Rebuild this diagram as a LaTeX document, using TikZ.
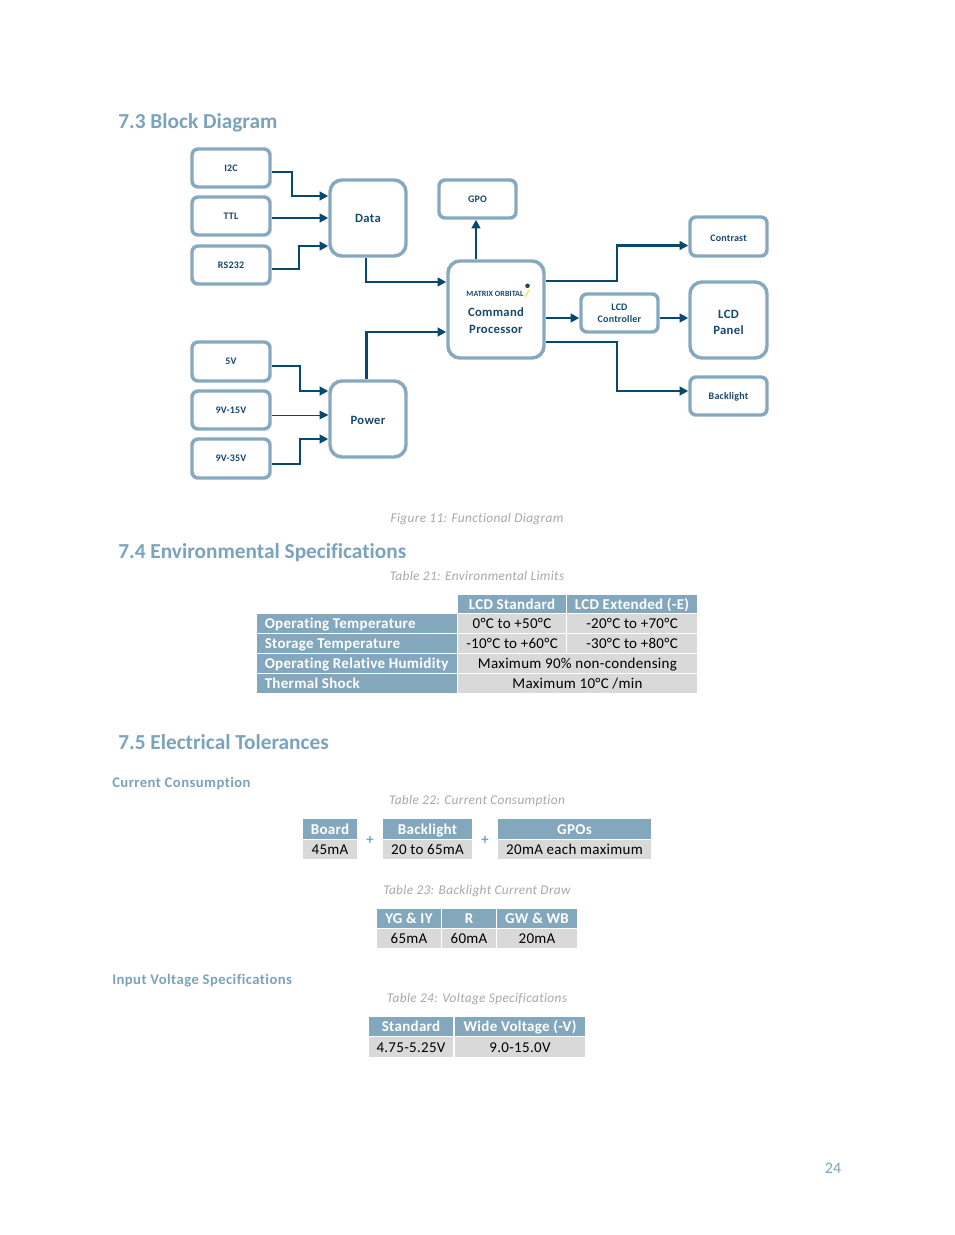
\documentclass[tikz,border=0pt]{standalone}
\usepackage{fontspec}
\setmainfont{Carlito}[Ligatures={NoCommon,NoContextual}]
\usetikzlibrary{calc,arrows.meta}
\definecolor{boxline}{HTML}{86A9C0}
\definecolor{wire}{HTML}{06486E}
\definecolor{boxtext}{HTML}{17496B}
\definecolor{head}{HTML}{7BA3BC}
\definecolor{cap}{HTML}{A8A8A8}
\definecolor{cellb}{HTML}{83A8BE}
\definecolor{cellg}{HTML}{D9D9D9}
\newcommand{\lsp}[1]{\addfontfeature{LetterSpace=#1}}
\newcommand{\lowr}[1]{\rule{0pt}{#1}}
\tikzset{
 x=0.75pt,y=-0.75pt,
 blk/.style={draw=boxline,line width=2.6pt,fill=white,rounded corners=4.5pt,inner sep=0,text=boxtext,font=\bfseries\fontsize{7.5}{9}\selectfont\lsp{2},align=center},
 big/.style={blk,rounded corners=9pt,font=\bfseries\fontsize{9.5}{12}\selectfont\lsp{2.5}},
 wirea/.style={draw=wire,line width=1.6pt,-{Triangle[length=6.5pt,width=6.5pt]}},
 wiret/.style={draw=wire,line width=0.7pt,-{Triangle[length=6.5pt,width=6.5pt]}},
 heading/.style={anchor=base west,inner sep=0,text=head,font=\bfseries\fontsize{16}{18}\selectfont},
 subhead/.style={anchor=base west,inner sep=0,text=head,font=\bfseries\fontsize{11}{13}\selectfont\lsp{3}},
 captxt/.style={anchor=base,inner sep=0,text=cap,font=\itshape\fontsize{10}{12}\selectfont\lsp{2.5}},
 hd/.style={fill=cellb,inner sep=0,text=white,text height=9.6pt,text depth=1.4pt,font=\bfseries\fontsize{11.25}{13}\selectfont\lsp{2}},
 cl/.style={fill=cellg,inner sep=0,text=black,text height=9.6pt,text depth=1.4pt,font=\fontsize{11.25}{13}\selectfont\lsp{2}},
}
% #1 name #2 style #3 x0 #4 y0 #5 x1 #6 y1 #7 text
\newcommand{\cellbox}[7]{\path[#2] (#3,#4) rectangle (#5,#6);
 \node[#2,fill=none] (#1) at ({(#3+#5)/2},{(#4+#6)/2}) {#7};}
\newcommand{\rowhead}[6]{\path[hd] (#2,#3) rectangle (#4,#5);
 \node[hd,fill=none,anchor=west] (#1) at ({#2+7.5},{(#3+#5)/2}) {#6};}
\newcommand{\blk}[7]{\node[#2,minimum width={(#5-#3)*0.75pt},minimum height={(#6-#4)*0.75pt}] (#1) at ({(#3+#5)/2},{(#4+#6)/2}) {#7};}
\begin{document}
\begin{tikzpicture}
\useasboundingbox (0,0) rectangle (954,1235);
\fill[white] (0,0) rectangle (954,1235);
% headings
\node[heading] (h73) at (118,128) {7.3 Block Diagram};
\node[heading] (h74) at (118,558) {7.4 Environmental Specifications};
\node[heading] (h75) at (118,749) {7.5 Electrical Tolerances};
\node[subhead] (s1) at (112,787) {Current Consumption};
\node[subhead] (s2) at (112,984) {Input Voltage Specifications};
\node[captxt] (c1) at (477,522) {Figure 11: Functional Diagram};
\node[captxt] (c2) at (477,580) {Table 21: Environmental Limits};
\node[captxt] (c3) at (477,804) {Table 22: Current Consumption};
\node[captxt] (c4) at (477,894) {Table 23: Backlight Current Draw};
\node[captxt] (c5) at (477,1002) {Table 24: Voltage Specifications};
\node[anchor=base,inner sep=0,text=head,font=\fontsize{12}{14}\selectfont] (pg) at (833,1173) {24};
% blocks
\blk{i2c}{blk}{192}{149}{270}{187}{I2C}
\blk{ttl}{blk}{192}{197}{270}{235}{TTL}
\blk{rs}{blk}{192}{246}{270}{284}{RS232}
\blk{v5}{blk}{192}{342}{270}{381}{5V}
\blk{v15}{blk}{192}{391}{270}{429}{9V-15V}
\blk{v35}{blk}{192}{439}{270}{478}{9V-35V}
\blk{data}{big}{330}{180}{406}{256}{Data}
\blk{power}{big}{330}{381}{406}{457}{\lowr{8.4pt}Power}
\blk{gpo}{blk}{439}{180}{516}{218}{GPO}
\blk{contrast}{blk}{690}{217}{767}{256}{\lowr{7pt}Contrast}
\blk{panel}{big}{690}{282}{767}{358}{\lowr{9.4pt}LCD\\Panel}
\blk{back}{blk}{690}{377}{767}{415}{\lowr{7pt}Backlight}
\blk{ctrl}{blk}{581}{294}{658}{332}{LCD\\Controller}
\blk{cmd}{big}{448}{261}{544}{358}{\mbox{}}
\node[inner sep=0,text=boxtext,font=\bfseries\fontsize{9.5}{12.5}\selectfont\lsp{2.5},align=center] (cmdt) at (496,320.5) {Command\\Processor};
\node[inner sep=0,text=boxtext,font=\bfseries\fontsize{6}{7}\selectfont\lsp{1}] (logo) at (495,293.5) {MATRIX ORBITAL};
\fill[boxtext] (527.5,285.8) circle (1.7pt);
\draw[yellow!85!orange,line width=0.7pt] (525,297) -- (529,290);
% connectors
\draw[wirea] ($(i2c.east)+(0,4)$) -- ++(20,0) |- ($(data.west)+(0,-22)$);
\draw[wirea] ($(ttl.east)+(0,2)$) -- ($(data.west)+(0,0)$);
\draw[wirea] ($(rs.east)+(0,4)$) -- ++(27,0) |- ($(data.west)+(0,28)$);
\draw[wirea] ($(v5.east)+(0,4.5)$) -- ++(28,0) |- ($(power.west)+(0,-28)$);
\draw[wiret] ($(v15.east)+(0,5)$) -- ($(power.west)+(0,-4)$);
\draw[wirea] ($(v35.east)+(0,5.5)$) -- ++(28,0) |- ($(power.west)+(0,20)$);
\draw[wirea] ($(data.south)+(-2,0)$) |- ($(cmd.west)+(0,-27.5)$);
\draw[wirea] ($(power.north)+(-1.5,0)$) |- ($(cmd.west)+(0,22.5)$);
\draw[wirea] ($(cmd.north)+(-20,0)$) -- ($(gpo.south)+(-1.5,0)$);
\draw[wirea] ($(cmd.east)+(0,-28.5)$) -- ++(71,0) |- ($(contrast.west)+(0,9)$);
\draw[wirea] ($(cmd.east)+(0,8.5)$) -- (ctrl.west |- 0,318);
\draw[wirea] ($(ctrl.east)+(0,5)$) -- ($(panel.west)+(0,-2)$);
\draw[wirea] ($(cmd.east)+(0,32.5)$) -- ++(71,0) |- ($(back.west)+(0,-5)$);
% table 21
\cellbox{a1}{hd}{458}{595}{566}{613}{LCD Standard}
\cellbox{a2}{hd}{567}{595}{697}{613}{LCD Extended (-E)}
\rowhead{r1}{257}{614}{457}{633}{Operating Temperature}
\rowhead{r2}{257}{634}{457}{653}{Storage Temperature}
\rowhead{r3}{257}{654}{457}{673}{Operating Relative Humidity}
\rowhead{r4}{257}{674}{457}{693}{Thermal Shock}
\cellbox{b1}{cl}{458}{614}{566}{633}{0°C to +50°C}
\cellbox{b2}{cl}{567}{614}{697}{633}{-20°C to +70°C}
\cellbox{b3}{cl}{458}{634}{566}{653}{-10°C to +60°C}
\cellbox{b4}{cl}{567}{634}{697}{653}{-30°C to +80°C}
\cellbox{b5}{cl}{458}{654}{697}{673}{Maximum 90\% non-condensing}
\cellbox{b6}{cl}{458}{674}{697}{693}{Maximum 10°C /min}
% table 22
\cellbox{d1}{hd}{303}{819}{357}{839}{Board}
\cellbox{d2}{hd}{383}{819}{472}{839}{Backlight}
\cellbox{d3}{hd}{498}{819}{651}{839}{GPOs}
\cellbox{e1}{cl}{303}{840}{357}{859}{45mA}
\cellbox{e2}{cl}{383}{840}{472}{859}{20 to 65mA}
\cellbox{e3}{cl}{498}{840}{651}{859}{20mA each maximum}
\node[inner sep=0,text=head,font=\bfseries\fontsize{11}{13}\selectfont] (p1) at (370,840) {+};
\node[inner sep=0,text=head,font=\bfseries\fontsize{11}{13}\selectfont] (p2) at (485,840) {+};
% table 23
\cellbox{f1}{hd}{377}{909}{441}{928}{YG \& IY}
\cellbox{f2}{hd}{442}{909}{496}{928}{R}
\cellbox{f3}{hd}{497}{909}{577}{928}{GW \& WB}
\cellbox{g1}{cl}{377}{929}{441}{948}{65mA}
\cellbox{g2}{cl}{442}{929}{496}{948}{60mA}
\cellbox{g3}{cl}{497}{929}{577}{948}{20mA}
% table 24
\cellbox{k1}{hd}{369}{1017}{453}{1036}{Standard}
\cellbox{k2}{hd}{455}{1017}{585}{1036}{Wide Voltage (-V)}
\cellbox{m1}{cl}{369}{1037}{453}{1057}{4.75-5.25V}
\cellbox{m2}{cl}{455}{1037}{585}{1057}{9.0-15.0V}
\end{tikzpicture}
\end{document}
